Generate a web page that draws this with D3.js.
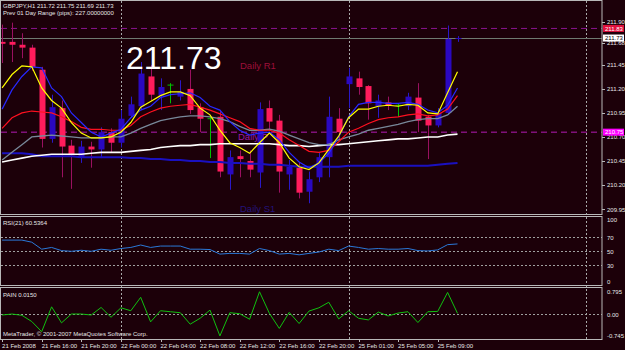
<!DOCTYPE html>
<html>
<head>
<meta charset="utf-8">
<script src="https://cdn.jsdelivr.net/npm/d3@7/dist/d3.min.js"></script>
<style>
    body { margin: 0; background: #1c0009; }
    text { font-family: "Liberation Sans", Arial, sans-serif; }
</style>
</head>
<body>
<script>
// GBPJPY H1 bars, 21 Feb 12:00 .. 25 Feb 11:00
var opens  = [211.69, 211.69, 211.66, 211.63, 211.40, 210.68, 211.00, 210.61, 210.49, 210.60,
              210.57, 210.75, 210.64, 210.92, 211.02, 211.33, 211.13, 211.24, 211.12, 211.20,
              211.01, 210.89, 210.91, 210.31, 210.50, 210.45, 210.33, 211.00, 210.87, 210.31,
              210.38, 210.13, 210.28, 210.49, 210.89, 211.25, 211.31, 211.23, 211.02, 211.06,
              211.03, 211.02, 211.11, 210.91, 210.82, 210.95, 211.72];
var highs  = [211.87, 211.89, 211.78, 211.66, 211.43, 211.14, 211.08, 210.67, 210.66, 210.65,
              210.80, 210.79, 210.98, 211.12, 211.48, 211.45, 211.31, 211.26, 211.29, 211.40,
              211.05, 210.91, 210.98, 210.56, 210.56, 210.56, 211.06, 211.08, 210.93, 210.46,
              210.44, 210.34, 210.54, 211.12, 211.00, 211.42, 211.38, 211.24, 211.14, 211.12,
              211.05, 211.16, 211.26, 210.93, 211.00, 211.86, 211.75];
var lows   = [211.47, 211.48, 211.52, 211.39, 210.59, 210.64, 210.28, 210.16, 210.43, 210.38,
              210.48, 210.54, 210.59, 210.90, 210.98, 211.08, 210.98, 211.05, 211.08, 210.94,
              210.75, 210.48, 210.28, 210.15, 210.28, 210.28, 210.17, 210.77, 210.12, 210.15,
              210.06, 210.01, 210.23, 210.28, 210.67, 211.00, 211.14, 210.88, 210.90, 210.98,
              210.91, 210.98, 210.75, 210.47, 210.80, 210.93, 211.69];
var closes = [211.67, 211.66, 211.63, 211.43, 210.68, 211.01, 210.60, 210.51, 210.60, 210.57,
              210.75, 210.64, 210.89, 211.04, 211.36, 211.14, 211.22, 211.24, 211.17, 210.98,
              210.89, 210.89, 210.34, 210.49, 210.47, 210.36, 210.99, 210.86, 210.34, 210.39,
              210.12, 210.26, 210.49, 210.91, 210.75, 211.33, 211.22, 211.05, 211.08, 211.03,
              211.03, 211.12, 210.87, 210.82, 210.95, 211.72, 211.73];

// moving averages as drawn on the chart
var maYellow = [211.21, 211.35, 211.44, 211.43, 211.21, 211.08, 211.00, 210.85, 210.74, 210.69,
                210.69, 210.70, 210.75, 210.85, 211.01, 211.07, 211.13, 211.17, 211.17, 211.13,
                211.00, 210.93, 210.77, 210.64, 210.59, 210.53, 210.64, 210.74, 210.64, 210.48,
                210.39, 210.36, 210.43, 210.57, 210.71, 210.90, 210.99, 210.99, 211.02, 211.03,
                211.02, 211.04, 211.03, 210.95, 210.94, 211.16, 211.38];
var maBlue   = [210.99, 211.19, 211.33, 211.43, 211.42, 211.21, 211.12, 210.95, 210.85, 210.75,
                210.70, 210.74, 210.78, 210.90, 210.98, 211.02, 211.11, 211.14, 211.15, 211.16,
                211.11, 211.02, 210.98, 210.86, 210.77, 210.72, 210.74, 210.75, 210.67, 210.54,
                210.44, 210.38, 210.43, 210.53, 210.70, 210.91, 211.04, 211.06, 211.06, 211.05,
                211.05, 211.06, 211.04, 210.98, 210.95, 211.03, 211.21];
var maRed    = [210.79, 210.90, 210.95, 210.97, 210.96, 210.95, 210.91, 210.86, 210.80, 210.78,
                210.78, 210.77, 210.77, 210.82, 210.91, 210.96, 211.00, 211.02, 211.03, 211.04,
                211.01, 210.98, 210.94, 210.90, 210.86, 210.79, 210.77, 210.77, 210.74, 210.67,
                210.61, 210.55, 210.54, 210.56, 210.65, 210.75, 210.79, 210.84, 210.88, 210.90,
                210.91, 210.93, 210.94, 210.92, 210.93, 210.99, 211.13];
var maGray   = [210.46, 210.54, 210.62, 210.70, 210.71, 210.72, 210.71, 210.70, 210.69, 210.69,
                210.69, 210.70, 210.70, 210.74, 210.79, 210.83, 210.87, 210.89, 210.91, 210.92,
                210.92, 210.91, 210.89, 210.86, 210.81, 210.77, 210.77, 210.78, 210.76, 210.72,
                210.68, 210.64, 210.62, 210.62, 210.67, 210.70, 210.73, 210.77, 210.79, 210.81,
                210.83, 210.86, 210.88, 210.89, 210.89, 210.93, 211.02];
var maWhite  = [210.44, 210.46, 210.48, 210.50, 210.51, 210.52, 210.52, 210.52, 210.52, 210.53,
                210.54, 210.54, 210.54, 210.55, 210.56, 210.57, 210.59, 210.60, 210.61, 210.61,
                210.62, 210.62, 210.63, 210.63, 210.63, 210.63, 210.63, 210.63, 210.62, 210.61,
                210.61, 210.60, 210.61, 210.62, 210.62, 210.63, 210.64, 210.65, 210.66, 210.67,
                210.68, 210.68, 210.69, 210.70, 210.70, 210.72, 210.73];
var maNavy   = [210.53, 210.53, 210.53, 210.52, 210.50, 210.50, 210.50, 210.50, 210.49, 210.49,
                210.49, 210.49, 210.49, 210.48, 210.48, 210.47, 210.47, 210.46, 210.46, 210.45,
                210.45, 210.44, 210.44, 210.43, 210.43, 210.42, 210.42, 210.41, 210.41, 210.40,
                210.39, 210.39, 210.39, 210.39, 210.39, 210.40, 210.40, 210.40, 210.40, 210.40,
                210.40, 210.40, 210.40, 210.40, 210.41, 210.42, 210.43];

var rsiValues = [66, 66, 66, 63, 53, 55.5, 51, 50, 51.5, 50,
                 53, 51.5, 54, 55.5, 59, 55.5, 57.5, 57.5, 57.5, 53,
                 53, 52.5, 46, 47, 47, 46, 54, 51, 46, 47,
                 45, 47, 49, 53, 51, 57.5, 55.5, 53, 54, 53,
                 53, 54, 51, 50.5, 52, 59.5, 60.5];
var painValues = [-0.03, 0, -0.04, -0.23, -0.54, 0.22, -0.27, 0, 0, -0.03,
                  0.2, -0.1, 0.19, 0.1, 0.51, -0.24, 0.1, 0.07, 0.04, -0.31,
                  -0.13, 0.12, -0.67, 0.04, 0.01, -0.16, 0.68, 0.02, -0.44, 0.05,
                  -0.29, 0.09, 0.19, 0.36, -0.15, 0.1, -0.13, -0.18, 0.06, -0.06,
                  0.03, 0.07, -0.26, 0.07, 0.08, 0.66, 0.02];

var timeLabels = ["21 Feb 2008", "21 Feb 16:00", "21 Feb 20:00", "22 Feb 00:00", "22 Feb 04:00", "22 Feb 08:00",
                  "22 Feb 12:00", "22 Feb 16:00", "22 Feb 20:00", "25 Feb 01:00", "25 Feb 05:00", "25 Feb 09:00"];
var timeLabelBars = [0, 4, 8, 12, 16, 20, 24, 28, 32, 36, 40, 44];
var separatorBars = [12, 35, 59];
var priceTicks = [211.90, 211.68, 211.45, 211.20, 210.95, 210.70, 210.45, 210.20, 209.95];
var rsiTicks = [100, 70, 50, 30, 0];
var rsiLevels = [70, 50, 30];
var painTicks = [0.795, 0, -0.745];
var painTickLabels = ["0.795", "0.00", "-0.745"];

var pivotR1 = 211.83, pivotP = 210.75, lastPrice = 211.73;

(function() {
    var width = 625,
        height = 350,
        right = 602,
        bg = "#1c0009",
        frame = "#b8b8b8",
        textColor = "#e6e6e6",
        bodyWidth = 6;

    var svg = d3.select("body").append("svg")
                .attr("width", width)
                .attr("height", height)
                .style("display", "block");

    svg.append("rect").attr("width", width).attr("height", height).style("fill", bg);

    var x = d3.scaleLinear().domain([0, 1]).range([2.1, 12.0]);
    var yMain = d3.scaleLinear().domain([209.95, 211.90]).range([209, 21.7]);
    var yRsi = d3.scaleLinear().domain([0, 100]).range([286.3, 216.3]);
    var yPain = d3.scaleLinear().domain([-0.745, 0.795]).range([338.4, 288]);

    var defs = svg.append("defs");
    defs.append("clipPath").attr("id", "clipMain")
        .append("rect").attr("x", 1).attr("y", 1).attr("width", right - 1).attr("height", 213);
    defs.append("clipPath").attr("id", "clipRsi")
        .append("rect").attr("x", 1).attr("y", 217).attr("width", right - 1).attr("height", 68);
    defs.append("clipPath").attr("id", "clipPain")
        .append("rect").attr("x", 1).attr("y", 288).attr("width", right - 1).attr("height", 51);

    // period separators
    svg.selectAll(".sep").data(separatorBars).enter()
       .append("line")
       .attr("class", "sep")
       .attr("x1", function(d) { return Math.round(x(d)) + 0.5; })
       .attr("x2", function(d) { return Math.round(x(d)) + 0.5; })
       .attr("y1", 1).attr("y2", 339)
       .style("stroke", "#a8a8a8")
       .style("stroke-dasharray", "2,2")
       .style("stroke-width", 1);

    var main = svg.append("g").attr("clip-path", "url(#clipMain)");

    // pivot lines
    main.append("line")
        .attr("x1", 1).attr("x2", right)
        .attr("y1", yMain(pivotR1)).attr("y2", yMain(pivotR1))
        .style("stroke", "#8c1490").style("stroke-dasharray", "6,4");
    main.append("line")
        .attr("x1", 1).attr("x2", right)
        .attr("y1", yMain(pivotP)).attr("y2", yMain(pivotP))
        .style("stroke", "#b41ab4").style("stroke-dasharray", "6,4");

    // current price line
    main.append("line")
        .attr("x1", 1).attr("x2", right)
        .attr("y1", Math.round(yMain(lastPrice)) + 0.5).attr("y2", Math.round(yMain(lastPrice)) + 0.5)
        .style("stroke", "#6e7a70");

    main.append("text").attr("x", 238).attr("y", 140)
        .style("font-size", "9.5px").style("fill", "#9a1aa4").text("Daily P");
    main.append("text").attr("x", 240).attr("y", 69)
        .style("font-size", "9.5px").style("fill", "#9c0f3a").text("Daily R1");
    main.append("text").attr("x", 240).attr("y", 212)
        .style("font-size", "9.5px").style("fill", "#24137a").text("Daily S1");

    var bars = d3.range(opens.length).map(function(i) {
        return {i: i, o: opens[i], h: highs[i], l: lows[i], c: closes[i]};
    });

    function barColor(d, part) {
        if (d.o === d.c) { return "#00c000"; }
        if (d.c > d.o) { return part === "wick" ? "#2a18c8" : "#2a08c0"; }
        return part === "wick" ? "#9a1060" : "#ff1c5c";
    }

    main.selectAll(".wick").data(bars).enter()
        .append("line")
        .attr("class", "wick")
        .attr("x1", function(d) { return Math.round(x(d.i)) + 0.5; })
        .attr("x2", function(d) { return Math.round(x(d.i)) + 0.5; })
        .attr("y1", function(d) { return yMain(d.h); })
        .attr("y2", function(d) { return yMain(d.l); })
        .style("stroke", function(d) { return barColor(d, "wick"); });

    // moving averages
    var maList = [
        {values: maNavy, color: "#1a10c0", w: 2},
        {values: maWhite, color: "#ffffff", w: 1.6},
        {values: maGray, color: "#78889a", w: 1.3},
        {values: maRed, color: "#ff1020", w: 1.2},
        {values: maBlue, color: "#2828ff", w: 1.2},
        {values: maYellow, color: "#ffff00", w: 1.2}
    ];

    var maLine = function(vals) {
        return d3.line()
                 .x(function(d, i) { return x(i); })
                 .y(function(d) { return yMain(d); })(vals);
    };

    main.selectAll(".body").data(bars.filter(function(d) { return d.o !== d.c; })).enter()
        .append("rect")
        .attr("class", "body")
        .attr("x", function(d) { return Math.round(x(d.i)) - bodyWidth / 2 + 0.5; })
        .attr("width", bodyWidth)
        .attr("y", function(d) { return yMain(Math.max(d.o, d.c)); })
        .attr("height", function(d) { return Math.max(1, Math.abs(yMain(d.o) - yMain(d.c))); })
        .style("fill", function(d) { return barColor(d, "body"); });

    main.selectAll(".doji").data(bars.filter(function(d) { return d.o === d.c; })).enter()
        .append("line")
        .attr("class", "doji")
        .attr("x1", function(d) { return Math.round(x(d.i)) - bodyWidth / 2 + 0.5; })
        .attr("x2", function(d) { return Math.round(x(d.i)) + bodyWidth / 2 + 0.5; })
        .attr("y1", function(d) { return yMain(d.o); })
        .attr("y2", function(d) { return yMain(d.o); })
        .style("stroke", "#00c000");

    main.selectAll(".ma").data(maList).enter()
        .append("path")
        .attr("class", "ma")
        .attr("d", function(d) { return maLine(d.values); })
        .style("fill", "none")
        .style("stroke", function(d) { return d.color; })
        .style("stroke-width", function(d) { return d.w; });

    // header texts
    svg.append("text").attr("x", 3).attr("y", 8)
       .style("font-size", "6px").style("fill", textColor)
       .text("GBPJPY,H1  211.72 211.75 211.69 211.73");
    svg.append("text").attr("x", 3).attr("y", 15)
       .style("font-size", "6px").style("fill", textColor)
       .text("Prev 01  Day  Range (pips): 227.00000000");
    svg.append("text").attr("x", 126).attr("y", 68.5)
       .style("font-size", "32px").style("fill", "#ffffff")
       .text("211.73");

    // RSI
    svg.selectAll(".rsiLevel").data(rsiLevels).enter()
       .append("line")
       .attr("x1", 1).attr("x2", right)
       .attr("y1", function(d) { return Math.round(yRsi(d)) + 0.5; })
       .attr("y2", function(d) { return Math.round(yRsi(d)) + 0.5; })
       .style("stroke", "#a0a0a0").style("stroke-dasharray", "2,2");

    svg.append("path")
       .attr("clip-path", "url(#clipRsi)")
       .attr("d", d3.line().x(function(d, i) { return x(i); }).y(function(d) { return yRsi(d); })(rsiValues))
       .style("fill", "none").style("stroke", "#2a78d8").style("stroke-width", 1);

    svg.append("text").attr("x", 3).attr("y", 225)
       .style("font-size", "6px").style("fill", textColor).text("RSI(21) 60.5364");

    // PAIN
    svg.append("line")
       .attr("x1", 1).attr("x2", right)
       .attr("y1", Math.round(yPain(0)) + 0.5).attr("y2", Math.round(yPain(0)) + 0.5)
       .style("stroke", "#a0a0a0").style("stroke-dasharray", "2,2");

    svg.append("path")
       .attr("clip-path", "url(#clipPain)")
       .attr("d", d3.line().x(function(d, i) { return x(i); }).y(function(d) { return yPain(d); })(painValues))
       .style("fill", "none").style("stroke", "#10c010").style("stroke-width", 1);

    svg.append("text").attr("x", 3).attr("y", 297)
       .style("font-size", "6px").style("fill", textColor).text("PAIN 0.0150");
    svg.append("text").attr("x", 3).attr("y", 336)
       .style("font-size", "6px").style("fill", textColor)
       .text("MetaTrader, \u00a9 2001-2007 MetaQuotes Software Corp.");

    // frames
    var frames = [[1, 0.5, 214.5], [1, 216.5, 285.5], [1, 287.5, 339.5]];
    frames.forEach(function(f) {
        svg.append("rect")
           .attr("x", f[0] - 0.5).attr("y", f[1])
           .attr("width", right - f[0] + 0.5).attr("height", f[2] - f[1])
           .style("fill", "none").style("stroke", frame);
    });

    // right price axis
    var axisG = svg.append("g");
    axisG.selectAll(".pt").data(priceTicks).enter()
         .append("line")
         .attr("x1", right).attr("x2", right + 3)
         .attr("y1", function(d) { return Math.round(yMain(d)) + 0.5; })
         .attr("y2", function(d) { return Math.round(yMain(d)) + 0.5; })
         .style("stroke", frame);
    axisG.selectAll(".ptl").data(priceTicks).enter()
         .append("text")
         .attr("x", right + 5)
         .attr("y", function(d) { return yMain(d) + 2.5; })
         .style("font-size", "6px").style("fill", textColor)
         .text(function(d) { return d3.format(".2f")(d); });

    var boxes = [
        {p: pivotR1, fill: "#e0103c", color: "#ffffff"},
        {p: lastPrice, fill: "#ffffff", color: "#000000"},
        {p: pivotP, fill: "#ff00ff", color: "#ffffff"}
    ];
    boxes.forEach(function(b) {
        var yy = yMain(b.p);
        axisG.append("rect").attr("x", right + 1).attr("y", yy - 3.5)
             .attr("width", 21).attr("height", 7).style("fill", b.fill);
        axisG.append("text").attr("x", right + 3).attr("y", yy + 2.3)
             .style("font-size", "6px").style("fill", b.color)
             .text(d3.format(".2f")(b.p));
    });

    axisG.selectAll(".rt").data(rsiTicks).enter()
         .append("text")
         .attr("x", right + 5)
         .attr("y", function(d) { return d === 100 ? 222 : (d === 0 ? 284 : yRsi(d) + 2.5); })
         .style("font-size", "6px").style("fill", textColor)
         .text(function(d) { return d; });

    axisG.selectAll(".pnt").data(painTicks).enter()
         .append("text")
         .attr("x", right + 5)
         .attr("y", function(d, i) { return i === 0 ? 294 : (i === 2 ? 338 : yPain(d) + 2.5); })
         .style("font-size", "6px").style("fill", textColor)
         .text(function(d, i) { return painTickLabels[i]; });

    // time axis
    svg.selectAll(".tt").data(timeLabelBars).enter()
       .append("line")
       .attr("x1", function(d) { return Math.round(x(d)) + 0.5; })
       .attr("x2", function(d) { return Math.round(x(d)) + 0.5; })
       .attr("y1", 339.5).attr("y2", 342)
       .style("stroke", frame);
    svg.selectAll(".tl").data(timeLabelBars).enter()
       .append("text")
       .attr("x", function(d) { return x(d); })
       .attr("y", 348)
       .style("font-size", "6px").style("fill", textColor)
       .text(function(d, i) { return timeLabels[i]; });
})();
</script>
</body>
</html>
